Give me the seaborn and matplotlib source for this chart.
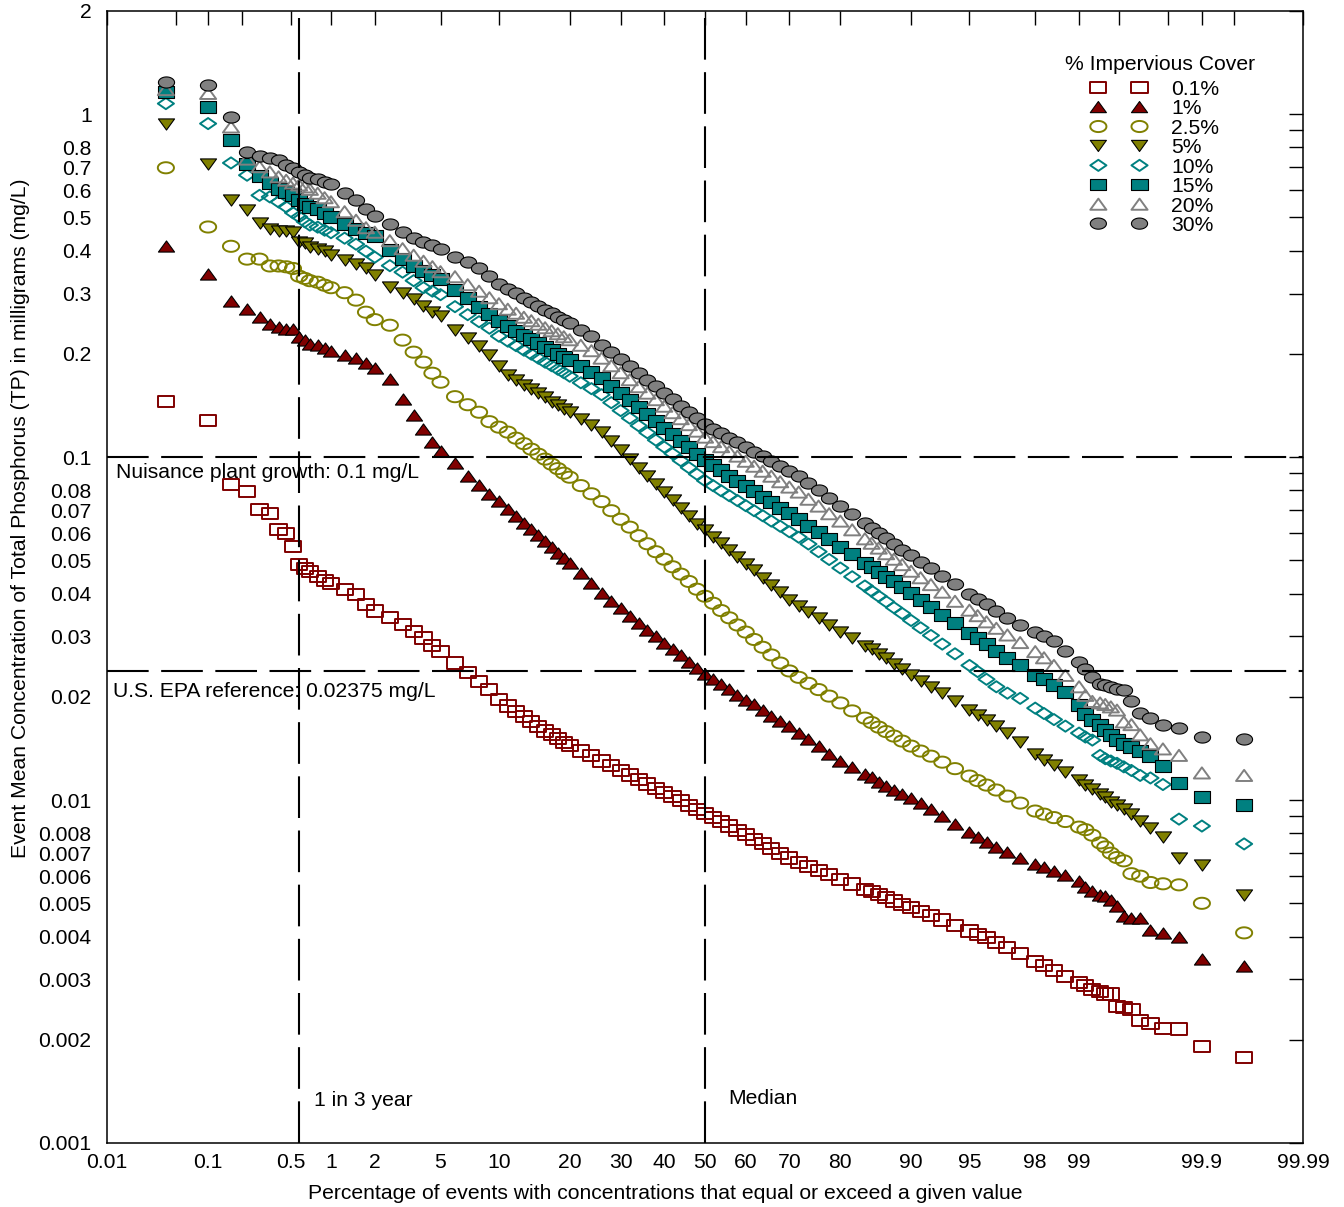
import numpy as np
import matplotlib
matplotlib.use('Agg')
import matplotlib.pyplot as plt
from matplotlib.path import Path
from matplotlib.ticker import FixedLocator, FixedFormatter, NullLocator
from matplotlib.transforms import blended_transform_factory
import seaborn as sns
from statistics import NormalDist

# exceedance percentage (plotting position) shared by every series
pct = [0.04, 0.10, 0.16, 0.22, 0.28, 0.34, 0.40, 0.46, 0.52, 0.58, 0.64, 0.70,
       0.8, 0.9, 1.0, 1.25, 1.5, 1.75, 2.0, 2.5, 3.0, 3.5, 4.0, 4.5,
       5, 6, 7, 8, 9, 10, 11, 12, 13, 14, 15, 16, 17, 18, 19,
       20, 22, 24, 26, 28, 30, 32, 34, 36, 38, 40, 42, 44, 46, 48, 50,
       52, 54, 56, 58, 60, 62, 64, 66, 68, 70, 72, 74, 76, 78, 80, 82, 84,
       85, 86, 87, 88, 89, 90, 91, 92, 93, 94, 95,
       95.5, 96, 96.5, 97, 97.5, 98, 98.25, 98.5, 98.75, 99.0, 99.1, 99.2,
       99.30, 99.36, 99.42, 99.48, 99.54, 99.60, 99.66, 99.72, 99.78, 99.84, 99.90, 99.96]

# TP event mean concentration (mg/L) for each % impervious cover
tp_0_1 = [0.145, 0.128, 0.0834, 0.0796, 0.0704, 0.0685, 0.0617, 0.0599, 0.0548, 0.0486, 0.0473, 0.0464,
          0.0448, 0.0438, 0.0428, 0.0412, 0.0398, 0.0372, 0.0356, 0.0340, 0.0325, 0.0310, 0.0297, 0.0283,
          0.0271, 0.0251, 0.0236, 0.0222, 0.0210, 0.0196, 0.0188, 0.0181, 0.0175, 0.0169, 0.0164, 0.0159, 0.0155, 0.0151, 0.0147,
          0.0144, 0.0139, 0.01345, 0.0130, 0.0126, 0.0122, 0.01183, 0.01148, 0.01114, 0.01082, 0.01052, 0.01023, 0.00995, 0.00967, 0.0094, 0.00915,
          0.00889, 0.00864, 0.0084, 0.00815, 0.00792, 0.00769, 0.00746, 0.00723, 0.0070, 0.00678, 0.00656, 0.00639, 0.00622, 0.00605, 0.00587, 0.00569, 0.0055,
          0.0054, 0.0053, 0.00519, 0.00508, 0.00497, 0.00485, 0.00473, 0.0046, 0.00447, 0.00431, 0.00415,
          0.00406, 0.00397, 0.00384, 0.00371, 0.00356, 0.00339, 0.00329, 0.00318, 0.00306, 0.00294, 0.00288, 0.0028,
          0.00276, 0.00272, 0.00272, 0.0025, 0.00248, 0.00245, 0.00227, 0.00223, 0.00216, 0.00215, 0.00191, 0.00178]

tp_1 = [0.412, 0.343, 0.2856, 0.271, 0.256, 0.245, 0.240, 0.237, 0.237, 0.224, 0.2195, 0.214,
        0.212, 0.208, 0.2044, 0.199, 0.1944, 0.1886, 0.1817, 0.1688, 0.1476, 0.1326, 0.1207, 0.1106,
        0.1041, 0.0960, 0.0880, 0.0829, 0.0782, 0.0744, 0.0708, 0.0673, 0.0644, 0.0617, 0.0592, 0.0569, 0.0546, 0.0527, 0.0509,
        0.0492, 0.0459, 0.0429, 0.0403, 0.0380, 0.0362, 0.0345, 0.0329, 0.0314, 0.0301, 0.0288, 0.0276, 0.0264, 0.0253, 0.0243, 0.0233,
        0.0225, 0.0218, 0.0211, 0.0203, 0.0196, 0.0190, 0.0183, 0.0176, 0.0170, 0.0164, 0.0157, 0.0151, 0.01437, 0.0136, 0.0130, 0.01245, 0.0119,
        0.01164, 0.01132, 0.0110, 0.01073, 0.0104, 0.01014, 0.0098, 0.00942, 0.00898, 0.00854, 0.00807,
        0.0078, 0.00754, 0.0073, 0.00705, 0.00678, 0.0065, 0.00638, 0.00621, 0.00604, 0.00581, 0.00558, 0.00543,
        0.0053, 0.00525, 0.0051, 0.0049, 0.0046, 0.00452, 0.00452, 0.00417, 0.0041, 0.0040, 0.00345, 0.00328]

tp_2_5 = [0.698, 0.469, 0.412, 0.378, 0.378, 0.361, 0.361, 0.359, 0.355, 0.337, 0.332, 0.327,
          0.3237, 0.3172, 0.312, 0.3017, 0.287, 0.2647, 0.2518, 0.2425, 0.2194, 0.2024, 0.1892, 0.1757,
          0.1654, 0.1501, 0.1422, 0.1352, 0.1269, 0.1223, 0.1183, 0.1136, 0.1095, 0.1055, 0.1020, 0.0987, 0.0954, 0.0926, 0.0898,
          0.0874, 0.0826, 0.0782, 0.0742, 0.0698, 0.0659, 0.0625, 0.0590, 0.0559, 0.0530, 0.0504, 0.0479, 0.0456, 0.0434, 0.0412, 0.0393,
          0.0375, 0.0357, 0.0340, 0.0324, 0.0309, 0.0294, 0.0279, 0.0265, 0.0251, 0.0238, 0.0228, 0.0219, 0.0210, 0.0201, 0.0192, 0.0182, 0.01734,
          0.01683, 0.01632, 0.01584, 0.01537, 0.01486, 0.01437, 0.0139, 0.01343, 0.0129, 0.01235, 0.01175,
          0.0114, 0.01106, 0.0107, 0.01027, 0.0098, 0.00929, 0.0091, 0.00889, 0.00866, 0.00834, 0.0082, 0.0079,
          0.0075, 0.0073, 0.0070, 0.0068, 0.00665, 0.0061, 0.0060, 0.00575, 0.0057, 0.00566, 0.0050, 0.0041]

tp_5 = [0.935, 0.715, 0.564, 0.525, 0.482, 0.464, 0.457, 0.457, 0.454, 0.424, 0.420, 0.410,
        0.4055, 0.3987, 0.3894, 0.3753, 0.3665, 0.3556, 0.3404, 0.3144, 0.3017, 0.2898, 0.2756, 0.2656,
        0.2585, 0.2346, 0.2223, 0.2107, 0.1983, 0.1842, 0.1734, 0.1677, 0.1627, 0.1579, 0.1537, 0.1496, 0.1451, 0.1418, 0.1385,
        0.1353, 0.1291, 0.1240, 0.1187, 0.1113, 0.1048, 0.0987, 0.0932, 0.0880, 0.0834, 0.0791, 0.0749, 0.0710, 0.0673, 0.0638, 0.0613,
        0.0586, 0.0561, 0.0536, 0.0511, 0.0489, 0.0468, 0.0445, 0.0425, 0.0404, 0.0384, 0.0369, 0.0354, 0.0339, 0.0325, 0.0310, 0.0296, 0.0282,
        0.0275, 0.0267, 0.0259, 0.0250, 0.0241, 0.0231, 0.0222, 0.0213, 0.0205, 0.0194, 0.0183,
        0.0177, 0.0171, 0.0164, 0.01568, 0.01476, 0.0136, 0.01312, 0.01265, 0.01207, 0.01143, 0.0111, 0.01077,
        0.0104, 0.0102, 0.0099, 0.0097, 0.0094, 0.0091, 0.0087, 0.0083, 0.0078, 0.0068, 0.00645, 0.00527]

tp_10 = [1.074, 0.939, 0.721, 0.664, 0.58, 0.574, 0.555, 0.537, 0.516, 0.502, 0.486, 0.475,
         0.4685, 0.4590, 0.4513, 0.4350, 0.4178, 0.3986, 0.3829, 0.3617, 0.3463, 0.3271, 0.3120, 0.3048,
         0.2977, 0.2747, 0.2603, 0.2483, 0.2377, 0.2253, 0.2179, 0.2114, 0.2051, 0.1997, 0.1944, 0.1892, 0.1848, 0.1805, 0.1763,
         0.1722, 0.1648, 0.1584, 0.1521, 0.1442, 0.1367, 0.1299, 0.1235, 0.1178, 0.1121, 0.1070, 0.1024, 0.0977, 0.0932, 0.0892, 0.0854,
         0.0826, 0.0798, 0.0772, 0.0747, 0.0722, 0.0698, 0.0675, 0.0651, 0.0629, 0.0606, 0.0584, 0.0558, 0.0530, 0.0503, 0.0475, 0.0448, 0.0421,
         0.0407, 0.0393, 0.0379, 0.0364, 0.0350, 0.0334, 0.0318, 0.0302, 0.0285, 0.0267, 0.0247,
         0.0237, 0.0225, 0.0214, 0.0205, 0.0198, 0.01854, 0.01788, 0.01717, 0.01643, 0.01568, 0.01527, 0.01496,
         0.0135, 0.0132, 0.0130, 0.0128, 0.0125, 0.0122, 0.0118, 0.0116, 0.0111, 0.0088, 0.0084, 0.00745]

tp_15 = [1.16, 1.05, 0.84, 0.718, 0.659, 0.631, 0.607, 0.594, 0.58, 0.562, 0.549, 0.537,
         0.5284, 0.5144, 0.5028, 0.4795, 0.4637, 0.4513, 0.4409, 0.4027, 0.3792, 0.3617, 0.3486, 0.3405,
         0.3314, 0.3068, 0.2907, 0.2747, 0.2611, 0.2491, 0.2409, 0.2337, 0.2268, 0.2208, 0.2150, 0.2100, 0.2051, 0.2003, 0.1963,
         0.1917, 0.1842, 0.1769, 0.1699, 0.1616, 0.1537, 0.1466, 0.1399, 0.1335, 0.1273, 0.1219, 0.1167, 0.1117, 0.1070, 0.1024, 0.0980,
         0.0948, 0.0917, 0.0883, 0.0854, 0.0823, 0.0796, 0.0767, 0.0739, 0.0713, 0.0687, 0.0659, 0.0631, 0.0604, 0.0577, 0.0548, 0.0521, 0.0492,
         0.0478, 0.0464, 0.0448, 0.0434, 0.0419, 0.0401, 0.0384, 0.0366, 0.0347, 0.0328, 0.0308,
         0.0297, 0.0285, 0.0272, 0.0259, 0.0247, 0.0232, 0.0225, 0.0217, 0.0206, 0.0189, 0.0178, 0.0171,
         0.0165, 0.0160, 0.0155, 0.0150, 0.0146, 0.0143, 0.0139, 0.0134, 0.0126, 0.0112, 0.0102, 0.0097]

tp_20 = [1.18, 1.15, 0.918, 0.74, 0.703, 0.679, 0.657, 0.642, 0.630, 0.622, 0.614, 0.604,
         0.5884, 0.5709, 0.5558, 0.5197, 0.4909, 0.4667, 0.4529, 0.4278, 0.4055, 0.3881, 0.3728, 0.3593,
         0.3474, 0.3359, 0.3184, 0.3048, 0.2917, 0.2802, 0.2701, 0.2629, 0.2559, 0.2500, 0.2442, 0.2385, 0.2337, 0.2291, 0.2245,
         0.2200, 0.2120, 0.2044, 0.1944, 0.1848, 0.1763, 0.1682, 0.1605, 0.1537, 0.1471, 0.1408, 0.1348, 0.1295, 0.1244, 0.1191, 0.1144,
         0.1110, 0.1073, 0.1038, 0.1007, 0.0973, 0.0941, 0.0910, 0.0880, 0.0848, 0.0818, 0.0791, 0.0754, 0.0720, 0.0684, 0.0651, 0.0614, 0.0578,
         0.0561, 0.0543, 0.0523, 0.0504, 0.0486, 0.0465, 0.0445, 0.0425, 0.0404, 0.0380, 0.0358,
         0.0345, 0.0331, 0.0317, 0.0303, 0.0288, 0.0271, 0.0260, 0.0247, 0.0231, 0.0214, 0.0202, 0.0194,
         0.0192, 0.0190, 0.0187, 0.0183, 0.0169, 0.0166, 0.0155, 0.0146, 0.0141, 0.0135, 0.0120, 0.0118]

tp_30 = [1.242, 1.215, 0.982, 0.776, 0.754, 0.743, 0.734, 0.71, 0.695, 0.679, 0.664, 0.65,
         0.6462, 0.6355, 0.6270, 0.5904, 0.5615, 0.5303, 0.5058, 0.4778, 0.4529, 0.4350, 0.4234, 0.4150,
         0.4040, 0.3842, 0.3703, 0.3556, 0.3382, 0.3194, 0.3099, 0.3007, 0.2917, 0.2840, 0.2765, 0.2692, 0.2629, 0.2568, 0.2509,
         0.2459, 0.2353, 0.2260, 0.2128, 0.2024, 0.1930, 0.1842, 0.1758, 0.1682, 0.1611, 0.1542, 0.1476, 0.1413, 0.1357, 0.1299, 0.1248,
         0.1210, 0.1175, 0.1140, 0.1106, 0.1073, 0.1038, 0.1007, 0.0973, 0.0941, 0.0910, 0.0880, 0.0840, 0.0801, 0.0762, 0.0722, 0.0682, 0.0642,
         0.0621, 0.0600, 0.0580, 0.0559, 0.0537, 0.0518, 0.0496, 0.0475, 0.0451, 0.0426, 0.0400,
         0.0387, 0.0372, 0.0356, 0.0340, 0.0324, 0.0309, 0.0301, 0.0291, 0.0272, 0.0253, 0.0241, 0.0228,
         0.0218, 0.0216, 0.0214, 0.0211, 0.0210, 0.0194, 0.0180, 0.0173, 0.0166, 0.0162, 0.0153, 0.0151]

cover_labels = ['0.1%', '1%', '2.5%', '5%', '10%', '15%', '20%', '30%']

nuisance_level = 0.1
epa_level = 0.02375
three_year_pct = 0.58
median_pct = 50

xtick_pct = [0.01, 0.05, 0.1, 0.2, 0.5, 1, 2, 5, 10, 20, 30, 40, 50, 60, 70, 80, 90,
             95, 98, 99, 99.5, 99.8, 99.9, 99.95, 99.99]
xtick_labels = ['0.01', '', '0.1', '', '0.5', '1', '2', '5', '10', '20', '30', '40', '50',
                '60', '70', '80', '90', '95', '98', '99', '', '', '99.9', '', '99.99']
ytick_vals = [0.001, 0.002, 0.003, 0.004, 0.005, 0.006, 0.007, 0.008, 0.009,
              0.01, 0.02, 0.03, 0.04, 0.05, 0.06, 0.07, 0.08, 0.09,
              0.1, 0.2, 0.3, 0.4, 0.5, 0.6, 0.7, 0.8, 0.9, 1, 2]
ytick_labels = ['0.001', '0.002', '0.003', '0.004', '0.005', '0.006', '0.007', '0.008', '',
                '0.01', '0.02', '0.03', '0.04', '0.05', '0.06', '0.07', '0.08', '',
                '0.1', '0.2', '0.3', '0.4', '0.5', '0.6', '0.7', '0.8', '', '1', '2']

FS = 15.2


def zscore(p):
    # normal probability scale: percent -> standard normal quantile
    nd = NormalDist()
    return np.array([nd.inv_cdf(v / 100.0) for v in np.atleast_1d(p)])


def shape(pts):
    pts = list(pts) + [pts[0]]
    return Path(pts, closed=True)


# markers in the original are a bit wider than tall
t = np.linspace(0, 2 * np.pi, 48, endpoint=False)
oval = shape(list(zip(1.45 * np.cos(t), np.sin(t))))
box = shape([(-1.45, -1), (1.45, -1), (1.45, 1), (-1.45, 1)])
tri_up = shape([(-1.45, -1), (1.45, -1), (0, 1)])
tri_down = shape([(-1.45, 1), (1.45, 1), (0, -1)])
diamond = shape([(0, -1), (1.45, 0), (0, 1), (-1.45, 0)])

looks = [(box, 'none', '#800000', 1.4),
         (tri_up, '#800000', 'black', 0.8),
         (oval, 'none', '#808000', 1.4),
         (tri_down, '#808000', 'black', 0.8),
         (diamond, 'none', '#008080', 1.4),
         (box, '#008080', 'black', 0.8),
         (tri_up, 'none', '#808080', 1.4),
         (oval, '#808080', 'black', 0.8)]

sns.set_theme(style='white')
plt.rcParams['font.family'] = ['Liberation Sans', 'DejaVu Sans']
plt.rcParams.update({'text.color': 'black', 'axes.labelcolor': 'black',
                     'xtick.color': 'black', 'ytick.color': 'black',
                     'axes.edgecolor': 'black'})

fig = plt.figure(figsize=(13.44, 12.07), dpi=100)
ax = fig.add_axes([107 / 1344, 64 / 1207, 1196 / 1344, 1132 / 1207])

x = zscore(pct)
series = [tp_0_1, tp_1, tp_2_5, tp_5, tp_10, tp_15, tp_20, tp_30]
for vals, lab, (mk, fc, ec, lw) in zip(series, cover_labels, looks):
    sns.scatterplot(x=x, y=vals, marker=mk, s=135, facecolor=fc, edgecolor=ec,
                    linewidth=lw, label=lab, legend=False, ax=ax, zorder=3)

ax.set_yscale('log')
ax.set_ylim(0.001, 2)
ax.set_xlim(zscore(0.01)[0], zscore(99.99)[0])

ax.set_xticks(zscore(xtick_pct))
ax.set_xticklabels(xtick_labels)
ax.yaxis.set_major_locator(FixedLocator(ytick_vals))
ax.yaxis.set_major_formatter(FixedFormatter(ytick_labels))
ax.yaxis.set_minor_locator(NullLocator())
ax.tick_params(which='both', direction='in', length=10, width=1, color='black',
               top=True, right=True, labelsize=FS)
ax.tick_params(axis='x', pad=7)
ax.tick_params(axis='y', pad=11)
for sp in ax.spines.values():
    sp.set_color('black')
    sp.set_linewidth(1.1)

# reference lines
dash = dict(color='black', lw=1.5, dashes=(20, 6), zorder=4)
ax.axhline(nuisance_level, **dash)
ax.axhline(epa_level, **dash)
ax.axvline(zscore(three_year_pct)[0], **dash)
ax.axvline(zscore(median_pct)[0], **dash)

trans = blended_transform_factory(ax.transAxes, ax.transData)
ax.text(0.0075, 0.0902, 'Nuisance plant growth: 0.1 mg/L', transform=trans,
        va='center', fontsize=FS, zorder=5)
ax.text(0.005, 0.0208, 'U.S. EPA reference: 0.02375 mg/L', transform=trans,
        va='center', fontsize=FS, zorder=5)
ax.annotate('1 in 3 year', xy=(zscore(three_year_pct)[0], 0.00133), xytext=(11, 0),
            textcoords='offset points', va='center', fontsize=FS)
ax.annotate('Median', xy=(zscore(median_pct)[0], 0.00135), xytext=(17, 0),
            textcoords='offset points', va='center', fontsize=FS)

ax.set_xlabel('Percentage of events with concentrations that equal or exceed a given value',
              fontsize=FS)
ax.set_ylabel('Event Mean Concentration of Total Phosphorus (TP) in milligrams (mg/L)',
              fontsize=FS)
ax.xaxis.set_label_coords(0.4666, -0.036)
ax.yaxis.set_label_coords(-0.064, 0.552)

ax.legend(loc='upper left', bbox_to_anchor=(0.8236, 0.939), frameon=False,
          scatterpoints=2, scatteryoffsets=[0.5], handlelength=2.55,
          handletextpad=1.2, labelspacing=0.02, borderpad=0, borderaxespad=0,
          fontsize=FS)
ax.text(0.801, 0.953, '% Impervious Cover', transform=ax.transAxes,
        ha='left', va='center', fontsize=FS)

fig.savefig('out.png', dpi=100)
